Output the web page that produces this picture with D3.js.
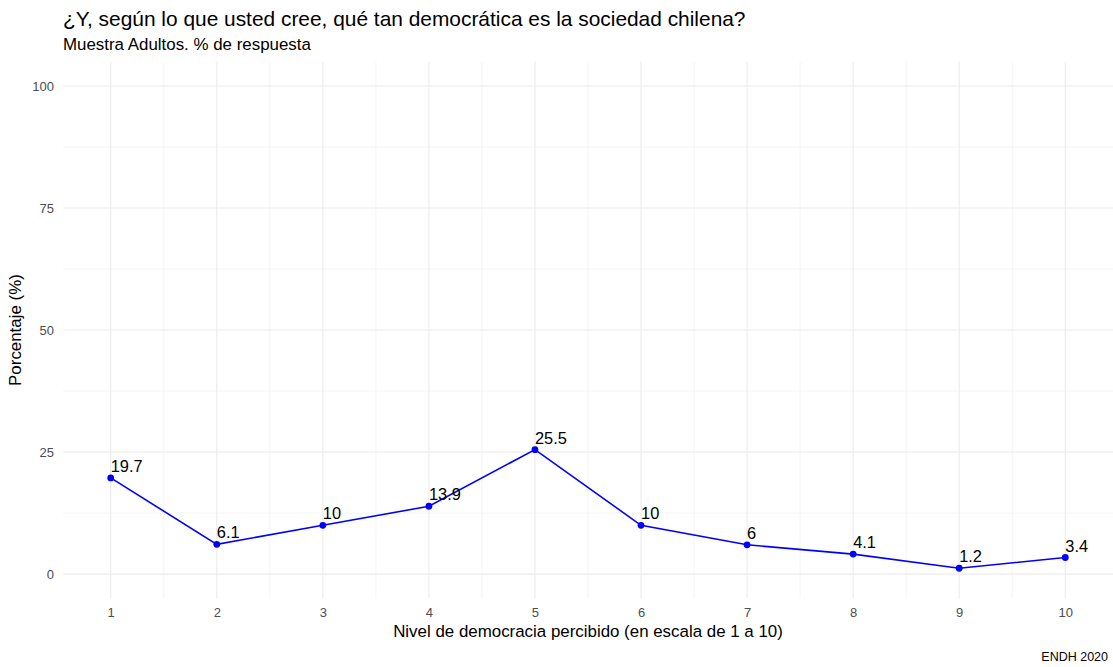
<!DOCTYPE html>
<html><head><meta charset="utf-8">
<script src="https://cdn.jsdelivr.net/npm/d3@7"></script>
<style>body{margin:0;background:#fff}svg{display:block;font-family:"Liberation Sans",Arial,sans-serif}</style>
</head><body><svg id="c" width="1113" height="667"></svg>
<script>
const levels = [1,2,3,4,5,6,7,8,9,10];
const percentages = [19.7,6.1,10,13.9,25.5,10,6,4.1,1.2,3.4];
const yTicks = [0,25,50,75,100];
const yMinor = [12.5,37.5,62.5,87.5];
const xMinor = [1.5,2.5,3.5,4.5,5.5,6.5,7.5,8.5,9.5];
const title = "¿Y, según lo que usted cree, qué tan democrática es la sociedad chilena?";
const subtitle = "Muestra Adultos. % de respuesta";
const xTitle = "Nivel de democracia percibido (en escala de 1 a 10)";
const yTitle = "Porcentaje (%)";
const caption = "ENDH 2020";

const svg = d3.select("#c");
const L = 63, R = 1113, T = 61.6, B = 598.5;
const x = d3.scaleLinear().domain([0.55,10.45]).range([L,R]);
const y = d3.scaleLinear().domain([-5,105]).range([B,T]);
const data = levels.map((l,i)=>({l, v: percentages[i]}));

const g = svg.append("g");
g.selectAll(".ymin").data(yMinor).join("line").attr("x1",L).attr("x2",R)
 .attr("y1",d=>y(d)).attr("y2",d=>y(d)).attr("stroke","#ebebeb").attr("stroke-width",0.55);
g.selectAll(".xmin").data(xMinor).join("line").attr("y1",T).attr("y2",B)
 .attr("x1",d=>x(d)).attr("x2",d=>x(d)).attr("stroke","#ebebeb").attr("stroke-width",0.55);
g.selectAll(".ymaj").data(yTicks).join("line").attr("x1",L).attr("x2",R)
 .attr("y1",d=>y(d)).attr("y2",d=>y(d)).attr("stroke","#ebebeb").attr("stroke-width",1.1);
g.selectAll(".xmaj").data(levels).join("line").attr("y1",T).attr("y2",B)
 .attr("x1",d=>x(d)).attr("x2",d=>x(d)).attr("stroke","#ebebeb").attr("stroke-width",1.1);

// axes
const xa = d3.axisBottom(x).tickValues(levels).tickSize(0).tickPadding(9);
svg.append("g").attr("transform",`translate(0,${B})`).call(xa)
 .call(s=>{s.select(".domain").remove(); s.selectAll("text").attr("fill","#4d4d4d").style("font-size","13px").attr("font-family","Liberation Sans, Arial, sans-serif");});
const ya = d3.axisLeft(y).tickValues(yTicks).tickSize(0).tickPadding(9);
svg.append("g").attr("transform",`translate(${L},0)`).call(ya)
 .call(s=>{s.select(".domain").remove(); s.selectAll("text").attr("fill","#4d4d4d").style("font-size","13px").attr("font-family","Liberation Sans, Arial, sans-serif");});

// line and points
svg.append("path").datum(data).attr("fill","none").attr("stroke","#0000ff").attr("stroke-width",1.6)
 .attr("d", d3.line().x(d=>x(d.l)).y(d=>y(d.v)));
svg.selectAll(".pt").data(data).join("circle").attr("cx",d=>x(d.l)).attr("cy",d=>y(d.v)).attr("r",3.4).attr("fill","#0000ff");
svg.selectAll(".lbl").data(data).join("text").attr("x",d=>x(d.l)).attr("y",d=>y(d.v)-6)
 .text(d=>d.v).attr("fill","#000").style("font-size","16.4px");

// titles
svg.append("text").attr("x",63).attr("y",26).text(title).style("font-size","20.9px").attr("fill","#000");
svg.append("text").attr("x",63).attr("y",50).text(subtitle).style("font-size","16.9px").attr("fill","#000");
svg.append("text").attr("x",(L+R)/2).attr("y",637).attr("text-anchor","middle").text(xTitle).style("font-size","16.9px").attr("fill","#000");
svg.append("text").attr("transform",`translate(21,${(T+B)/2}) rotate(-90)`).attr("text-anchor","middle").text(yTitle).style("font-size","16.9px").attr("fill","#000");
svg.append("text").attr("x",1108).attr("y",661).attr("text-anchor","end").text(caption).style("font-size","12.5px").attr("fill","#000");
</script></body></html>
